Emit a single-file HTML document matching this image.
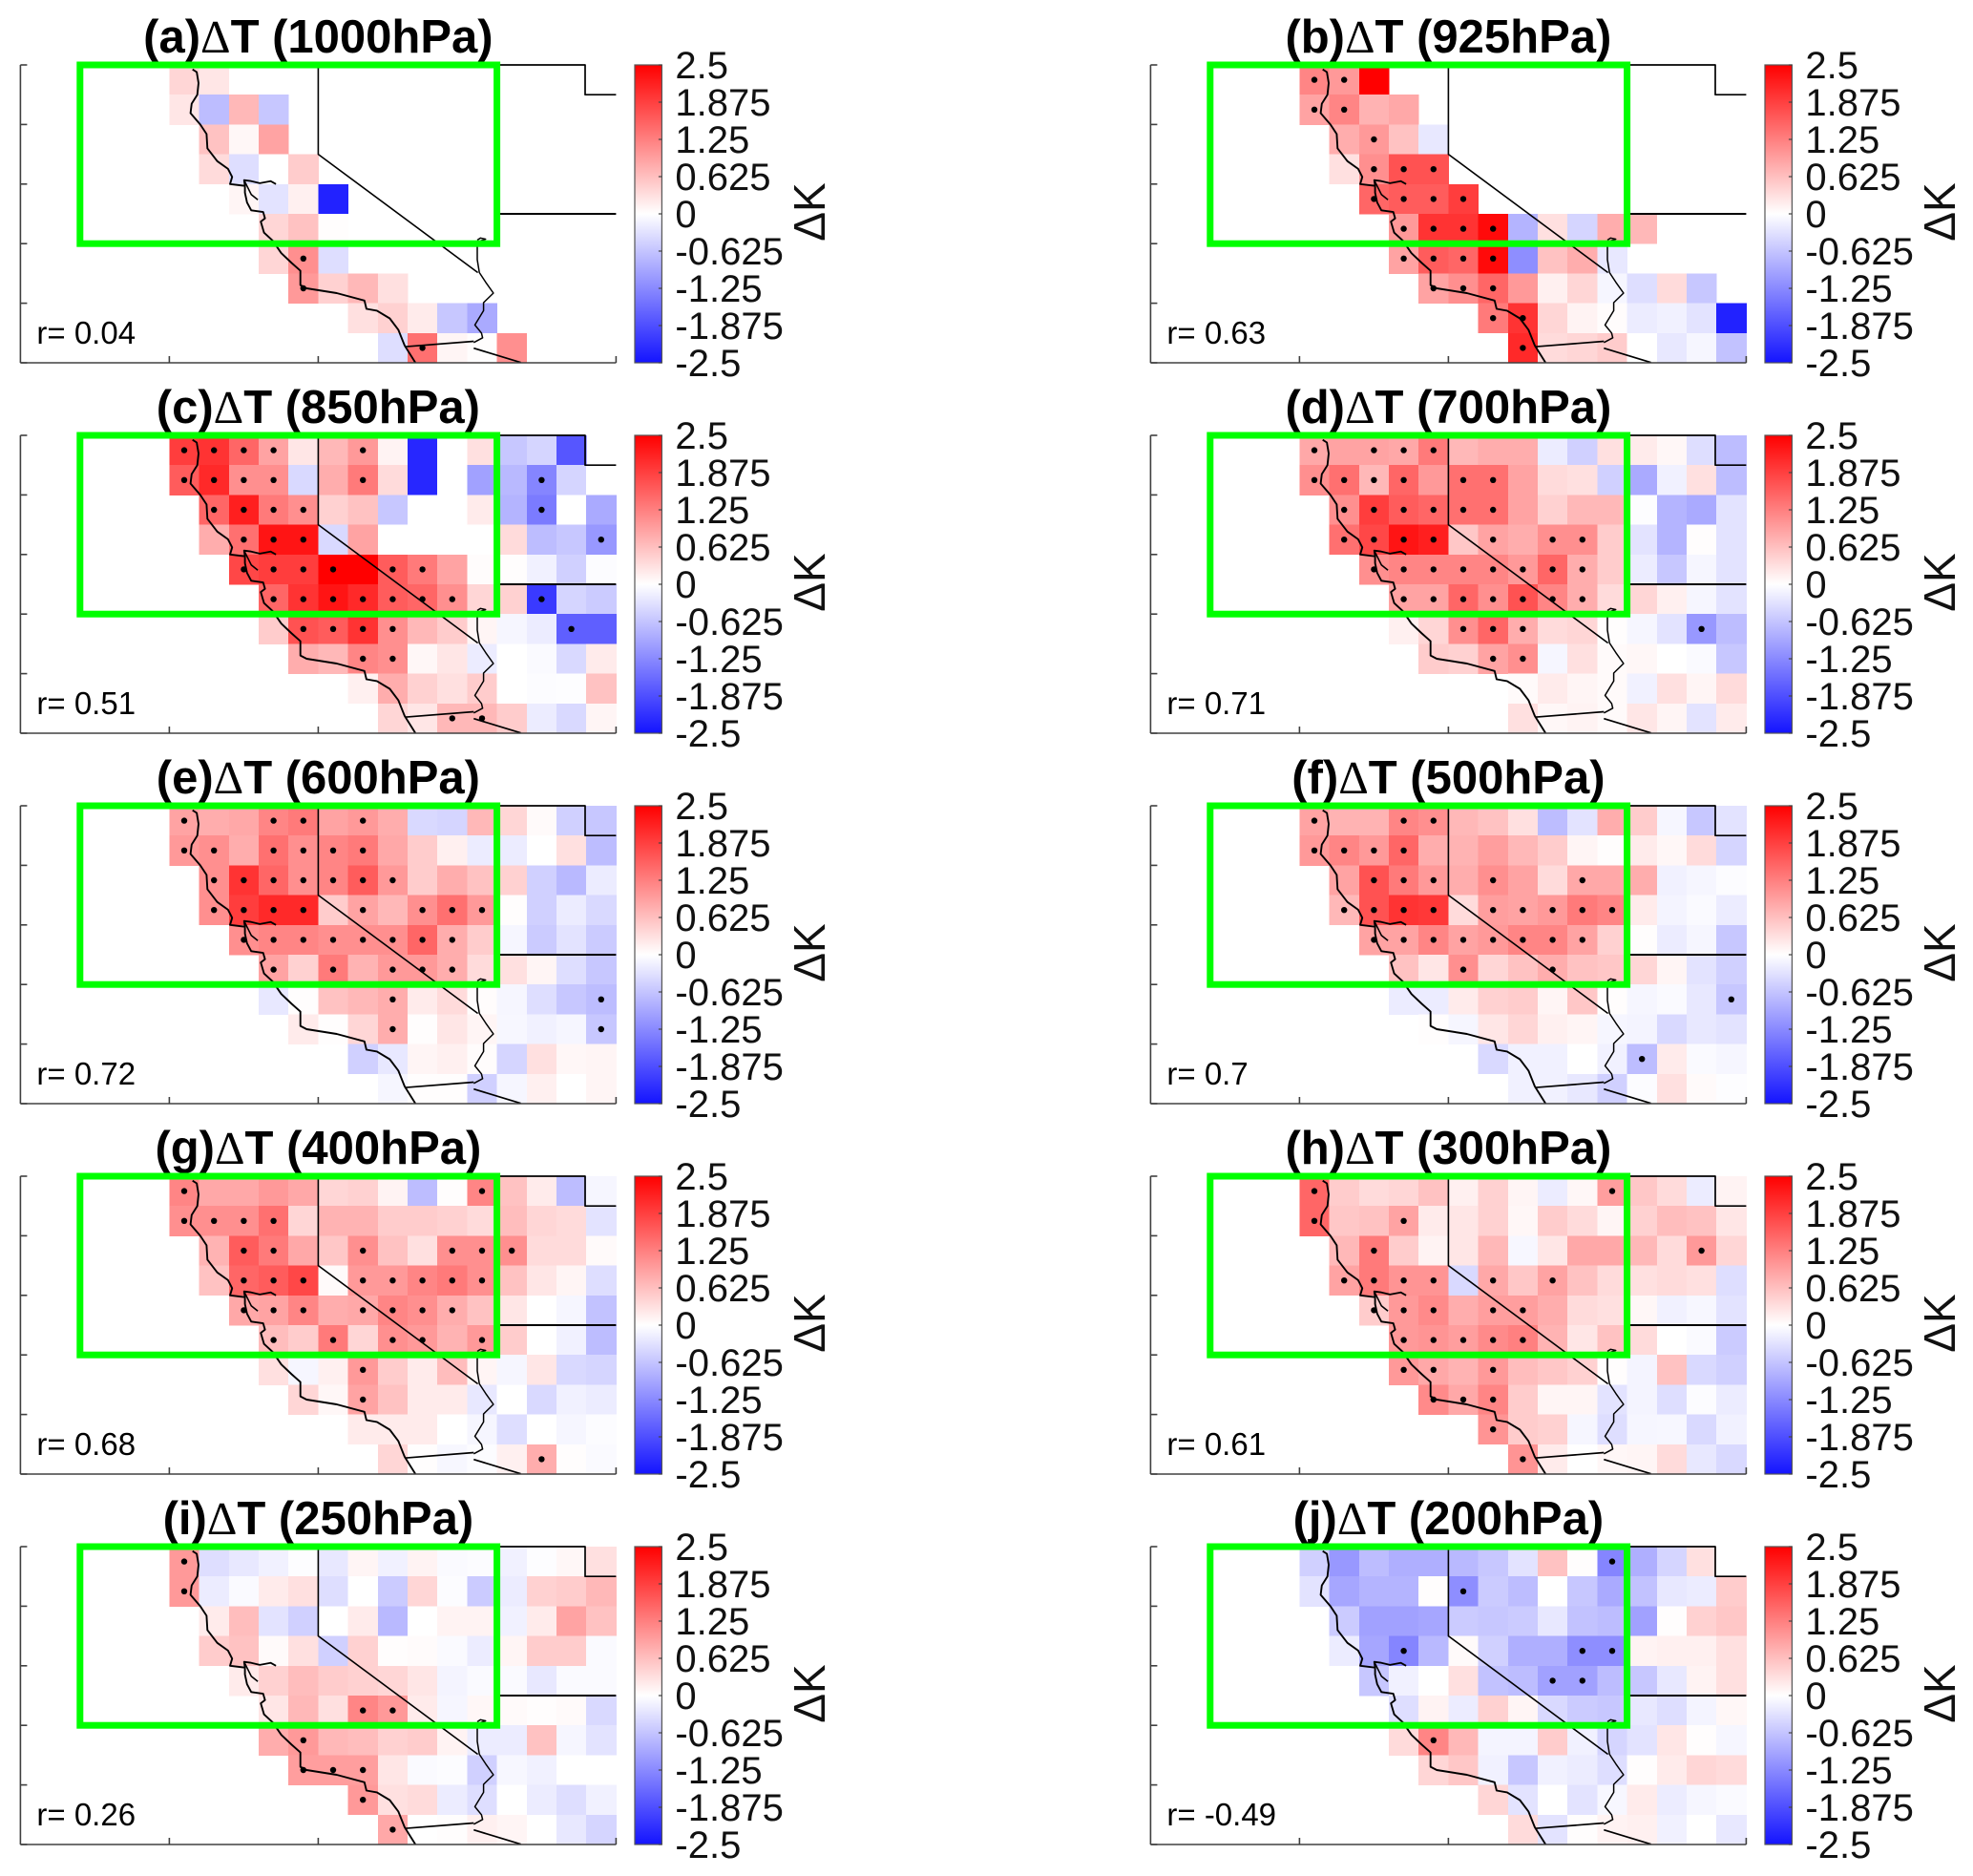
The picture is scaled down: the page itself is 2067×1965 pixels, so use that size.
<!DOCTYPE html>
<html lang="en">
<head>
<meta charset="utf-8">
<title>Temperature difference maps by pressure level</title>
<style>
html,body{margin:0;padding:0;background:#fff;}
svg{display:block;font-family:"Liberation Sans",sans-serif;}
</style>
</head>
<body>
<svg id="figure" xmlns="http://www.w3.org/2000/svg" width="2067" height="1965" viewBox="0 0 2067 1965">
<defs>
<linearGradient id="cbGrad" x1="0" y1="0" x2="0" y2="1">
<stop offset="0" stop-color="#ff0000"/>
<stop offset="0.5" stop-color="#ffffff"/>
<stop offset="1" stop-color="#1414ff"/>
</linearGradient>
</defs>
<rect x="0" y="0" width="2067" height="1965" fill="#fff"/>
</svg>
<script>
const _ = null;

const dT1000 = [
 [.4,.25],
 [.25,-.7,.7,-.6],
 [_,.6,.08,.9],
 [_,.35,-.35,0,.5],
 [_,_,.1,-.3,.15,-2.35],
 [_,_,_,.4,.6,.02],
 [_,_,_,.4,1.1,-.35],
 [_,_,_,_,1.0,.45,.7,.3],
 [_,_,_,_,_,_,.3,.45,.2,-.6,-.9],
 [_,_,_,_,_,_,_,-.35,1.4,.1,.02,1.1]
];
const sig1000 = [[6,4],[7,4],[9,8]];

const dT925 = [
 [1.2,1.0,2.5],
 [.9,1.2,.75,.85],
 [_,.8,1.0,.6,-.25],
 [_,.3,1.1,1.7,1.7],
 [_,_,1.5,1.6,1.6,1.9],
 [_,_,_,1.0,2.0,2.0,2.4,-.8,.3,-.45,.8,.7],
 [_,_,_,.9,1.6,1.5,2.4,-1.2,.6,.8,-.25],
 [_,_,_,_,.9,1.1,1.5,1.0,.15,.4,-.1,-.35,.35,-.6],
 [_,_,_,_,_,_,1.3,2.0,.4,.12,.03,-.2,-.15,-.3,-2.35],
 [_,_,_,_,_,_,_,2.1,.35,.4,.5,0,-.25,-.1,-.65]
];
const sig925 = [[0,0],[0,1],[1,0],[1,1],[2,2],[3,2],[3,3],[3,4],[4,2],[4,3],[4,4],[4,5],[5,3],[5,4],[5,5],[5,6],[6,3],[6,4],[6,5],[6,6],[7,4],[7,5],[7,6],[8,6],[8,7],[9,7]];

const dT850 = [
 [1.9,2.0,1.5,.9,.25,.7,1.0,.12,-2.3,0,.3,-.6,-.45,-1.8],
 [1.6,2.1,1.1,1.1,-.4,.8,1.3,.35,-2.3,0,-1.0,-.75,-1.3,-.45,0],
 [_,1.5,2.2,1.3,1.1,.45,.6,-.6,0,0,.2,-.8,-1.4,0,-.9],
 [_,.8,1.4,2.3,2.3,-.4,.9,0,0,0,0,.35,-.7,-.6,-1.1],
 [_,_,1.8,1.9,1.9,2.5,2.5,1.6,1.3,.9,.03,.02,-.15,-.5,-.03],
 [_,_,_,1.5,2.0,2.3,2.1,1.6,1.5,1.1,.4,.45,-2.1,-.45,-.55],
 [_,_,_,.5,1.7,1.6,2.0,1.1,.7,.5,.1,-.1,-.2,-1.7,-1.7],
 [_,_,_,_,.8,.7,1.2,1.1,.08,.25,-.2,0,-.05,-.4,.2],
 [_,_,_,_,_,_,.15,.8,.45,.3,.5,0,-.03,-.02,.6],
 [_,_,_,_,_,_,_,.4,.25,.7,.7,.5,-.2,-.4,.1]
];
const sig850 = [[0,0],[0,1],[0,2],[0,3],[0,6],[1,0],[1,1],[1,2],[1,3],[1,6],[1,12],[2,1],[2,2],[2,3],[2,4],[2,12],[3,2],[3,3],[3,4],[3,14],[4,2],[4,3],[4,4],[4,5],[4,7],[4,8],[5,3],[5,4],[5,5],[5,6],[5,7],[5,8],[5,9],[5,12],[6,4],[6,5],[6,6],[6,7],[6,13],[7,6],[7,7],[9,9],[9,10]];

const dT700 = [
 [.85,.9,.9,.85,1.3,.7,.8,.8,-.2,-.5,.3,.2,.08,-.35,-.7],
 [1.1,1.4,.7,1.5,1.0,1.4,1.4,.9,.35,.3,-.5,-.9,-.15,.3,-.7],
 [_,1.1,1.9,1.6,1.5,1.4,1.4,.9,.45,.7,.7,-.02,-.8,-.9,-.3],
 [_,1.4,1.8,2.3,2.2,.55,.9,.8,1.1,1.1,.5,-.3,-.8,.02,-.3],
 [_,_,1.1,1.2,1.2,1.2,1.2,1.0,1.5,.8,.5,-.2,-.6,-.1,-.3],
 [_,_,_,.9,.9,1.5,1.1,1.7,1.2,.8,.35,.4,.15,-.1,-.3],
 [_,_,_,.15,.4,1.1,1.5,.8,.35,.4,.02,-.1,-.3,-1.1,-.7],
 [_,_,_,_,.5,.45,.9,1.1,-.1,.3,.05,.08,0,-.05,-.6],
 [_,_,_,_,_,_,_,.05,.2,.1,.05,-.15,.3,.1,.35],
 [_,_,_,_,_,_,_,.3,.08,.12,.05,.25,.1,-.3,.2]
];
const sig700 = [[0,0],[0,2],[0,3],[0,4],[1,0],[1,1],[1,2],[1,3],[1,5],[1,6],[2,1],[2,2],[2,3],[2,4],[2,5],[2,6],[3,1],[3,2],[3,3],[3,4],[3,6],[3,8],[3,9],[4,2],[4,3],[4,4],[4,5],[4,6],[4,7],[4,8],[4,9],[5,3],[5,4],[5,5],[5,6],[5,7],[5,8],[5,9],[6,5],[6,6],[6,7],[6,13],[7,6],[7,7]];

const dT600 = [
 [.9,.8,.85,1.2,1.3,.9,1.0,.8,-.4,-.45,.7,.4,.05,-.5,-.6],
 [1.0,1.1,.8,1.4,1.1,1.2,1.3,.85,.5,.15,-.2,-.2,0,.3,-.7],
 [_,1.1,2.0,1.5,1.1,1.2,1.6,1.0,.5,.8,.6,.45,-.5,-.75,-.2],
 [_,1.1,1.9,2.1,2.1,.5,.9,.7,1.1,1.4,1.0,.02,-.5,-.2,-.4],
 [_,_,1.1,1.2,1.2,1.1,1.1,1.1,1.5,.8,.5,-.1,-.55,-.3,-.55],
 [_,_,_,.9,.45,1.3,.75,1.0,1.0,.8,.35,.3,.1,-.35,-.6],
 [_,_,_,-.25,.02,.6,.7,.8,.2,.35,.03,-.1,-.35,-.6,-.7],
 [_,_,_,_,.2,.02,.4,.8,.02,.25,.1,-.08,-.15,-.1,-.6],
 [_,_,_,_,_,_,-.5,-.25,.1,.15,.03,-.45,.3,.08,.1],
 [_,_,_,_,_,_,_,-.1,.02,.02,-.5,-.1,.15,0,.1]
];
const sig600 = [[0,0],[0,3],[0,4],[0,6],[1,0],[1,1],[1,3],[1,4],[1,5],[1,6],[2,1],[2,2],[2,3],[2,4],[2,5],[2,6],[2,7],[3,1],[3,2],[3,3],[3,4],[3,6],[3,8],[3,9],[3,10],[4,2],[4,3],[4,4],[4,5],[4,6],[4,7],[4,8],[4,9],[5,3],[5,5],[5,7],[5,8],[5,9],[6,7],[6,14],[7,7],[7,14]];

const dT500 = [
 [.9,.75,.75,1.2,1.1,.7,.6,.3,-.7,-.3,.8,.5,-.1,-.6,-.3],
 [1.0,1.2,1.0,1.5,.8,.75,.95,.7,.5,.1,.02,.2,.08,.35,-.45],
 [_,.9,1.7,1.3,1.0,.8,1.1,.9,.35,.85,.85,.8,-.15,-.1,-.03],
 [_,.7,1.7,2.0,1.95,.35,.95,.9,1.0,1.3,1.2,.2,-.12,-.05,-.2],
 [_,_,.9,.9,1.2,.9,1.0,1.2,1.2,.9,.45,.02,-.2,-.1,-.6],
 [_,_,_,.6,.25,1.1,.4,.6,.8,.6,.55,.4,.1,-.3,-.5],
 [_,_,_,-.2,-.2,.2,.45,.5,.1,.55,.02,-.1,-.05,-.25,-.6],
 [_,_,_,_,.02,-.1,.25,.4,.15,.1,-.1,-.12,-.4,-.25,-.3],
 [_,_,_,_,_,_,-.4,-.15,-.15,0,-.15,-.7,.2,-.05,-.1],
 [_,_,_,_,_,_,_,-.15,-.15,-.25,-.5,-.03,.3,.05,-.02]
];
const sig500 = [[0,0],[0,3],[0,4],[1,0],[1,1],[1,2],[1,3],[2,2],[2,3],[2,4],[2,6],[2,9],[3,1],[3,2],[3,3],[3,4],[3,6],[3,7],[3,8],[3,9],[3,10],[4,2],[4,3],[4,4],[4,5],[4,6],[4,7],[4,8],[4,9],[5,5],[5,8],[6,14],[8,11]];

const dT400 = [
 [1.2,.85,.85,1.0,.85,.4,.45,.12,-.7,.02,1.2,.6,.2,-.7,-.1],
 [1.1,1.1,1.1,1.4,.4,.75,.75,.5,.5,.45,.35,.65,.4,.35,-.3],
 [_,.75,1.6,1.3,.85,.55,1.1,.6,.3,1.1,1.1,1.1,.35,.35,.05],
 [_,.6,1.5,1.6,1.8,.05,1.0,1.0,1.2,1.3,1.1,.6,.25,.1,-.35],
 [_,_,.85,.9,1.2,.8,.85,1.2,1.1,.8,.6,.25,0,-.1,-.65],
 [_,_,_,.65,.5,1.3,.4,1.1,1.0,.75,1.0,.5,0,-.15,-.7],
 [_,_,_,.3,-.1,.15,1.0,.5,.2,.65,.1,-.1,.25,-.4,-.45],
 [_,_,_,_,.4,.08,.9,.6,.2,.2,-.25,0,-.4,-.15,-.2],
 [_,_,_,_,_,_,.2,.2,.2,0,-.1,-.35,0,-.1,-.03],
 [_,_,_,_,_,_,_,.4,.02,-.08,-.03,.15,.8,.02,-.05]
];
const sig400 = [[0,0],[0,10],[1,0],[1,1],[1,2],[1,3],[2,2],[2,3],[2,6],[2,9],[2,10],[2,11],[3,2],[3,3],[3,4],[3,6],[3,7],[3,8],[3,9],[3,10],[4,2],[4,3],[4,4],[4,6],[4,7],[4,8],[4,9],[5,3],[5,5],[5,7],[5,8],[5,10],[6,6],[7,6],[9,12]];

const dT300 = [
 [1.5,.5,.35,.4,.6,.15,.45,.1,-.2,.08,.95,.55,.35,-.2,.12],
 [1.5,.55,.6,.9,.2,.25,.45,.08,.5,.35,.1,.45,.65,.6,.25],
 [_,.7,1.3,.5,.12,.25,.7,-.08,.25,.85,.85,.7,.35,1.0,.4],
 [_,.9,1.3,1.05,1.05,-.4,.85,.55,.9,.6,.35,.3,.35,.3,-.35],
 [_,_,.5,1.0,1.15,.8,.95,.95,.8,.35,.3,.08,-.15,-.08,-.3],
 [_,_,_,1.0,1.05,.95,1.15,1.25,.75,.25,.6,.35,0,-.05,-.55],
 [_,_,_,1.0,.85,.75,1.0,.65,.55,.45,.02,-.12,.6,-.4,-.5],
 [_,_,_,_,1.15,.85,1.2,.5,.1,.1,-.3,-.12,-.35,-.03,-.2],
 [_,_,_,_,_,_,1.05,.5,.45,-.1,-.35,-.1,-.08,-.4,-.15],
 [_,_,_,_,_,_,_,1.05,.2,0,.08,.1,.35,-.25,-.4]
];
const sig300 = [[0,0],[0,10],[1,0],[1,3],[2,2],[2,13],[3,1],[3,2],[3,3],[3,4],[3,6],[3,8],[4,2],[4,3],[4,4],[4,6],[4,7],[5,3],[5,4],[5,5],[5,6],[5,7],[6,3],[6,4],[6,6],[7,4],[7,5],[7,6],[8,6],[9,7]];

const dT250 = [
 [1.0,-.35,-.25,-.15,-.02,-.25,.1,-.15,.12,-.05,-.03,-.15,-.02,.08,.3],
 [1.0,-.2,-.05,.2,.3,-.35,0,-.55,.4,-.03,-.55,-.2,.45,.5,.7],
 [_,.2,.65,-.3,-.5,0,.2,-.75,0,.12,.12,-.15,.2,.9,.6],
 [_,.5,.6,.05,.3,-.5,.45,.02,.04,-.05,-.2,.1,.5,.5,-.05],
 [_,_,.2,.45,.65,.5,.45,.4,.25,-.12,-.05,-.05,-.25,-.05,-.05],
 [_,_,_,.25,.7,.3,1.2,1.0,.2,-.1,.08,.05,.02,.05,-.4],
 [_,_,_,.8,1.0,.7,.65,.45,.5,.12,-.2,-.2,.6,-.1,-.3],
 [_,_,_,_,.95,.95,.95,.25,-.05,-.03,-.5,-.08,-.15,0,0],
 [_,_,_,_,_,_,1.0,.3,.35,-.2,-.35,0,-.2,-.35,-.15],
 [_,_,_,_,_,_,_,.85,0,.02,.15,.1,0,-.25,-.45]
];
const sig250 = [[0,0],[1,0],[5,6],[5,7],[6,4],[7,4],[7,5],[7,6],[8,6],[9,7]];

const dT200 = [
 [-.5,-1.1,-.7,-.85,-.85,-.75,-.6,-.3,.6,.02,-1.3,-.85,-.45,.3,0],
 [-.3,-.95,-.8,-.8,.02,-1.2,-.55,-.7,0,-.6,-.9,-.65,-.25,-.2,.5],
 [_,-.55,-1.0,-1.0,-.95,-.55,-.6,-.55,-.25,-.65,-.7,-1.0,.02,.45,.55],
 [_,-.2,-.95,-1.3,-.75,.05,-.5,-.85,-.85,-1.2,-1.2,.12,.15,.15,.3],
 [_,_,-.6,-.15,0,.3,-.65,-.7,-1.0,-1.0,-.7,-.6,-.25,.12,.3],
 [_,_,_,-.35,.12,-.2,.45,.1,-.4,-.55,-.6,-.25,-.35,-.12,.08],
 [_,_,_,.35,1.2,.7,-.12,-.12,.5,-.15,-.45,-.3,.25,.02,-.1],
 [_,_,_,_,.4,.55,-.15,-.6,-.15,-.2,-.35,.02,.2,.4,.35],
 [_,_,_,_,_,_,.4,-.3,0,-.3,-.08,.2,-.2,-.1,-.05],
 [_,_,_,_,_,_,_,.35,-.3,.02,.12,.15,-.15,0,-.25]
];
const sig200 = [[0,10],[1,5],[3,3],[3,9],[3,10],[4,8],[4,9],[6,4]];

const panelLetters = ["a","b","c","d","e","f","g","h","i","j"];
const panelLevels = ["1000hPa","925hPa","850hPa","700hPa","600hPa","500hPa","400hPa","300hPa","250hPa","200hPa"];
const panelCorrelations = ["0.04","0.63","0.51","0.71","0.72","0.7","0.68","0.61","0.26","-0.49"];
const panelValues = [dT1000,dT925,dT850,dT700,dT600,dT500,dT400,dT300,dT250,dT200];
const panelSignificance = [sig1000,sig925,sig850,sig700,sig600,sig500,sig400,sig300,sig250,sig200];
const colorbarTicks = [2.5,1.875,1.25,0.625,0,-0.625,-1.25,-1.875,-2.5];
const colorbarLabels = ["2.5","1.875","1.25","0.625","0","-0.625","-1.25","-1.875","-2.5"];

/* basemap vertices, in grid-cell units (column, row) */
const coastline = [[5.78,.15],[5.92,.24],[5.98,.61],[5.94,1],[5.75,1.3],[5.71,1.62],[6.04,2],[6.25,2.32],[6.28,2.8],[6.61,3.23],[6.97,3.49],[7.11,3.76],[7.04,4],[7.54,4.06],[7.54,4.29],[7.61,4.62],[7.75,4.88],[8.15,4.94],[8.21,5.15],[8.07,5.26],[8.18,5.63],[8.47,5.9],[8.76,6.32],[9.11,6.65],[9.4,6.91],[9.4,7.39],[9.61,7.5],[10.62,7.66],[11.55,7.91],[11.62,8.19],[11.97,8.25],[12.4,8.51],[12.69,8.89],[12.9,9.42],[13.26,9.99]];
const bayDelta = [[7.54,4.06],[7.51,3.87],[7.75,3.9],[8.04,3.97],[8.4,3.9],[8.58,4]];
const bayInlet = [[7.51,3.87],[7.75,4.35],[7.97,4.53]];
const nevadaBorder = [[10,0],[10,3],[15.36,6.97]];
const coloradoRiver = [[15.34,5.88],[15.45,5.81],[15.62,5.85],[15.34,5.95],[15.34,6.54],[15.41,6.97],[15.62,7.29],[15.88,7.66],[15.55,7.98],[15.55,8.25],[15.26,8.73],[15.48,9],[15.52,9.16],[15.22,9.32]];
const mexicoBorder = [[12.9,9.46],[15.22,9.28]];
const arizonaBorder = [[15.22,9.51],[16.8,9.99]];
const utahBorder = [[10,0],[18.96,0],[18.96,1],[20,1]];
const latitudeLine = [[16,5],[20,5]];

const svg = document.getElementById('figure');
const NS = 'http://www.w3.org/2000/svg';
const CELL = 31.2;
const GRID_COLS = 20;
const GRID_ROWS = 10;
const DATA_COL_OFFSET = 5;
const VMAX = 2.5;

function createNode(tag, attrs, parent) {
  const node = document.createElementNS(NS, tag);
  for (const key in attrs) node.setAttribute(key, attrs[key]);
  parent.appendChild(node);
  return node;
}
function valueColor(v) {
  const t = Math.min(1, Math.abs(v) / VMAX);
  if (v >= 0) {
    const g = Math.round(255 * (1 - t));
    return 'rgb(255,' + g + ',' + g + ')';
  }
  const g = Math.round(255 - 235 * t);
  return 'rgb(' + g + ',' + g + ',255)';
}

function drawPanel(index) {
  const left = index % 2 === 0 ? 21.4 : 1205.4;
  const top = 68 + 388 * Math.floor(index / 2);
  const xAxis = function (col) { return left + col * CELL; };
  const yAxis = function (row) { return top + row * CELL; };
  const cbY = function (v) { return top + (VMAX - v) / (2 * VMAX) * GRID_ROWS * CELL; };
  const level = panelLevels[index];

  const group = createNode('g', {}, svg);
  
  

  /* title */
  const title = createNode('text', {x: xAxis(GRID_COLS / 2), y: top - 13, 'text-anchor': 'middle', 'font-size': 49, 'font-weight': 'bold', fill: '#000'}, group);
  
  
  title.appendChild(document.createTextNode('(' + panelLetters[index] + ')'));
  const delta = createNode('tspan', {'font-family': '"Liberation Serif",serif', 'font-weight': 'normal'}, title);
  delta.textContent = 'Δ';
  title.appendChild(document.createTextNode('T (' + level + ')'));

  /* heatmap */
  const heat = createNode('g', {'shape-rendering': 'crispEdges'}, group);
  
  
  panelValues[index].forEach(function (rowValues, row) {
    rowValues.forEach(function (v, c) {
      if (v === null || v === undefined) return;
      const cell = createNode('rect', {x: xAxis(c + DATA_COL_OFFSET), y: yAxis(row), width: CELL + 0.4, height: CELL + 0.4, fill: valueColor(v)}, heat);
      
      
    });
  });

  /* basemap */
  const basemap = createNode('g', {fill: 'none', stroke: '#000', 'stroke-linejoin': 'round'}, group);
  
  
  const drawLine = function (points, name, width) {
    const d = points.map(function (p) { return xAxis(p[0]).toFixed(1) + ',' + yAxis(p[1]).toFixed(1); }).join(' ');
    const line = createNode('polyline', {points: d, 'stroke-width': width}, basemap);
    
    
  };
  drawLine(coastline, 'coastline', 1.9);
  drawLine(bayDelta, 'bay-delta', 1.8);
  drawLine(bayInlet, 'bay-inlet', 1.6);
  drawLine(nevadaBorder, 'nevada-border', 1.6);
  drawLine(coloradoRiver, 'colorado-river', 1.5);
  drawLine(mexicoBorder, 'mexico-border', 1.7);
  drawLine(arizonaBorder, 'arizona-border', 1.7);
  drawLine(utahBorder, 'utah-border', 1.7);
  drawLine(latitudeLine, 'state-line', 2);

  /* significance dots */
  panelSignificance[index].forEach(function (cellRef) {
    const dot = createNode('circle', {cx: xAxis(cellRef[1] + DATA_COL_OFFSET + 0.5), cy: yAxis(cellRef[0] + 0.5), r: 3.2, fill: '#000'}, group);
    
    
  });

  /* axes */
  const axes = createNode('g', {stroke: '#404040', 'stroke-width': 1.6, fill: 'none'}, group);
  
  
  const leftAxis = createNode('line', {x1: xAxis(0), y1: yAxis(0), x2: xAxis(0), y2: yAxis(GRID_ROWS)}, axes);
  
  
  const bottomAxis = createNode('line', {x1: xAxis(0), y1: yAxis(GRID_ROWS), x2: xAxis(GRID_COLS), y2: yAxis(GRID_ROWS)}, axes);
  
  
  for (let r = 0; r <= GRID_ROWS; r += 2) {
    const tick = createNode('line', {x1: xAxis(0), y1: yAxis(r), x2: xAxis(0) + 7, y2: yAxis(r)}, axes);
    
    
  }
  [5, 10, 20].forEach(function (c) {
    const tick = createNode('line', {x1: xAxis(c), y1: yAxis(GRID_ROWS), x2: xAxis(c), y2: yAxis(GRID_ROWS) - 7}, axes);
    
    
  });

  /* correlation label */
  const corr = createNode('text', {x: left + 17, y: top + 292, 'font-size': 33, fill: '#000'}, group);
  
  
  corr.textContent = 'r= ' + panelCorrelations[index];

  /* study-region box */
  const box = createNode('rect', {x: xAxis(2), y: yAxis(0), width: 14 * CELL, height: 6 * CELL, fill: 'none', stroke: '#00ff00', 'stroke-width': 7}, group);
  
  

  /* colorbar */
  const cbX = left + 643.6;
  const cbW = 28.4;
  const bar = createNode('rect', {x: cbX, y: top, width: cbW, height: GRID_ROWS * CELL, fill: 'url(#cbGrad)', stroke: '#555', 'stroke-width': 1.2}, group);
  
  
  colorbarTicks.forEach(function (v, i) {
    const y = cbY(v);
    const tick = createNode('line', {x1: cbX + cbW - 3.5, y1: y, x2: cbX + cbW, y2: y, stroke: '#444', 'stroke-width': 1.2}, group);
    
    
    const label = createNode('text', {x: left + 686, y: y + 14, 'font-size': 40, fill: '#111'}, group);
    
    
    label.textContent = colorbarLabels[i];
  });

  /* colorbar title */
  const unitX = left + 842.6;
  const unitY = top + 154;
  const unit = createNode('text', {x: unitX, y: unitY, transform: 'rotate(-90 ' + unitX + ' ' + unitY + ')', 'text-anchor': 'middle', 'font-size': 46, fill: '#111'}, group);
  
  
  unit.textContent = 'ΔK';
}

panelLevels.forEach(function (level, i) { drawPanel(i); });
</script>
</body>
</html>
